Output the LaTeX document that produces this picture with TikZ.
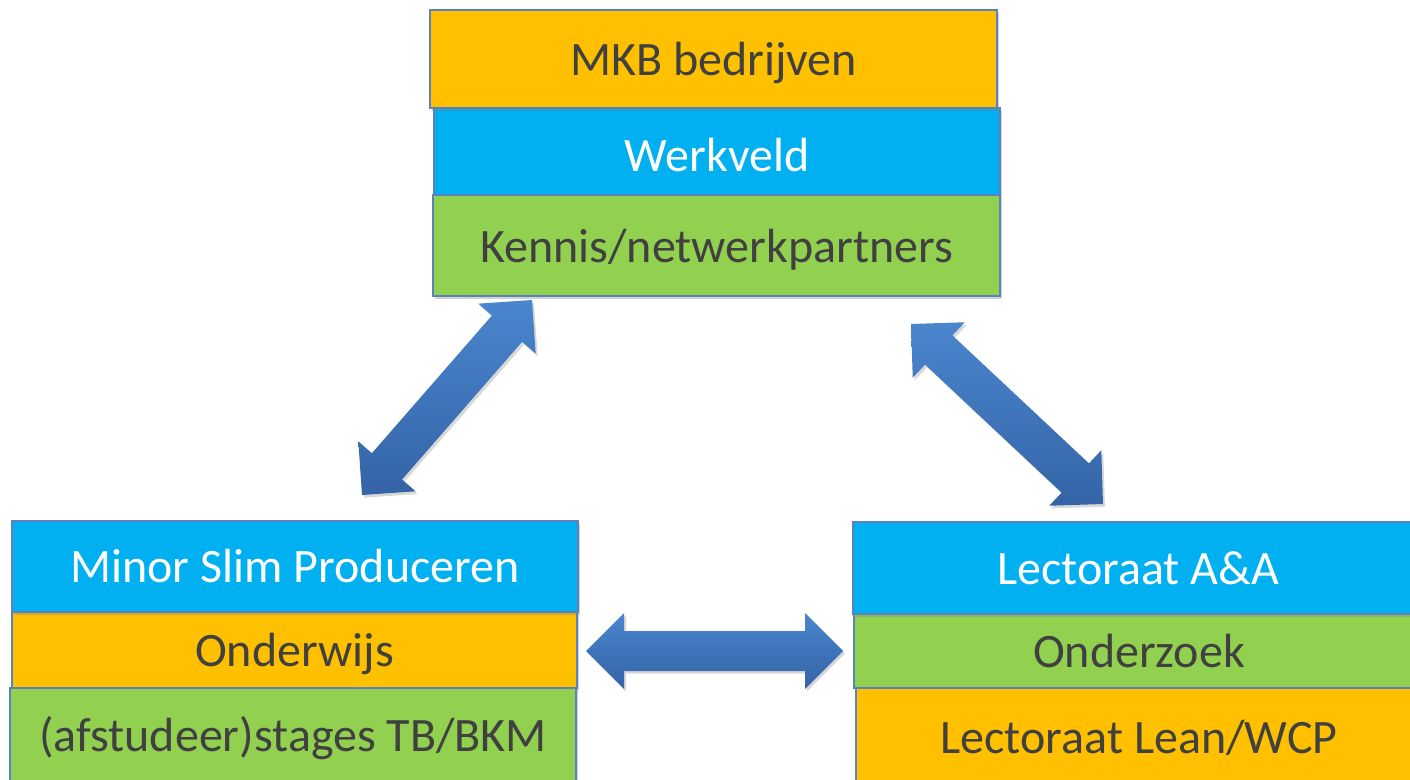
\documentclass[tikz,border=0pt]{standalone}
\usepackage{fontspec}
\setmainfont{Carlito}
\usetikzlibrary{calc,shadows}
\definecolor{cOrange}{HTML}{FFC000}
\definecolor{cBlue}{HTML}{00B0F0}
\definecolor{cGreen}{HTML}{92D050}
\definecolor{cEdge}{HTML}{5B82BF}
\definecolor{cText}{HTML}{404040}
\definecolor{arrA}{HTML}{4A86CE}
\definecolor{arrB}{HTML}{3463A6}
\tikzset{
  layer/.style={draw=cEdge, line width=0.9pt, inner sep=0pt, text=cText,
    font=\fontsize{36}{40}\selectfont,
    drop shadow={opacity=0.35, shadow xshift=1.5pt, shadow yshift=-2pt}},
  bluelayer/.style={layer, fill=cBlue, text=white},
  orangelayer/.style={layer, fill=cOrange},
  greenlayer/.style={layer, fill=cGreen},
  blockarrowstyle/.style={top color=arrA, bottom color=arrB,
    drop shadow={opacity=0.3, shadow xshift=1.5pt, shadow yshift=-2pt}}
}
\newcommand{\shiftdowntext}[1]{\raisebox{-3pt}[\height][\depth]{#1}}
\def\ahl{28.5pt}
\def\ahw{28.5pt}
\def\asw{15pt}
\newcommand{\blockarrow}[2]{%
  \path[blockarrowstyle] (#1)
    -- ($(#1)!\ahl!(#2)!\ahw!90:(#2)$)
    -- ($(#1)!\ahl!(#2)!\asw!90:(#2)$)
    -- ($(#2)!\ahl!(#1)!\asw!-90:(#1)$)
    -- ($(#2)!\ahl!(#1)!\ahw!-90:(#1)$)
    -- (#2)
    -- ($(#2)!\ahl!(#1)!\ahw!90:(#1)$)
    -- ($(#2)!\ahl!(#1)!\asw!90:(#1)$)
    -- ($(#1)!\ahl!(#2)!\asw!-90:(#2)$)
    -- ($(#1)!\ahl!(#2)!\ahw!-90:(#2)$)
    -- cycle;}
\begin{document}
\begin{tikzpicture}[x=0.75pt, y=-0.75pt]
\useasboundingbox (0,0) rectangle (1410,780);
\clip (0,0) rectangle (1410,780);
\fill[white] (0,0) rectangle (1410,780);
% top group
\node[bluelayer, minimum width=566*0.75pt, minimum height=87*0.75pt] (werkveld) at (717,151.5) {\shiftdowntext{Werkveld}};
\node[greenlayer, minimum width=567*0.75pt, minimum height=101*0.75pt] (kennis) at (716.5,245.5) {\shiftdowntext{Kennis/netwerkpartners}};
\node[orangelayer, minimum width=567*0.75pt, minimum height=98*0.75pt] (mkb) at (713.5,59) {\shiftdowntext{MKB bedrijven}};
% bottom-left group
\node[orangelayer, minimum width=565*0.75pt, minimum height=76*0.75pt] (onderwijs) at (294.5,650) {\shiftdowntext{Onderwijs}};
\node[greenlayer, minimum width=566*0.75pt, minimum height=100*0.75pt] (stages) at (293,738) {(afstudeer)stages TB/BKM};
\node[bluelayer, minimum width=566*0.75pt, minimum height=91*0.75pt] (minor) at (295,566.5) {Minor Slim Produceren};
% bottom-right group
\node[greenlayer, minimum width=570*0.75pt, minimum height=74*0.75pt] (onderzoek) at (1139,651) {Onderzoek};
\node[orangelayer, minimum width=566*0.75pt, minimum height=100*0.75pt] (lean) at (1139,738) {Lectoraat Lean/WCP};
\node[bluelayer, minimum width=570*0.75pt, minimum height=92*0.75pt] (lectoraat) at (1138,568) {Lectoraat A\&A};
% arrows
\coordinate (l1) at (362,495);
\coordinate (l2) at (532,300);
\coordinate (r1) at (911,324);
\coordinate (r2) at (1103,504);
\coordinate (h1) at (586,651);
\coordinate (h2) at (843,651);
\blockarrow{l1}{l2}
\blockarrow{r1}{r2}
\blockarrow{h1}{h2}
\end{tikzpicture}
\end{document}
